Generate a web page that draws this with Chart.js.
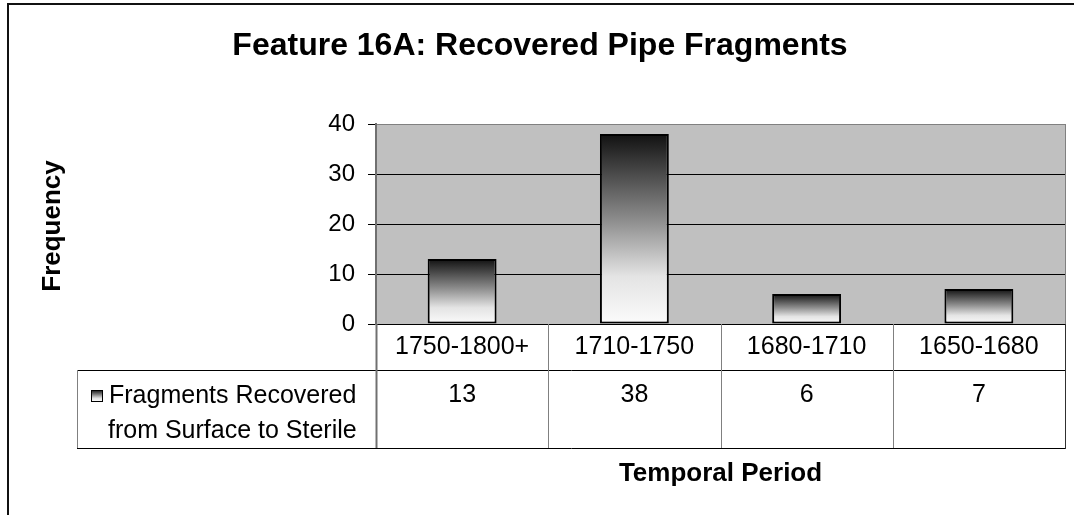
<!DOCTYPE html>
<html>
<head>
<meta charset="utf-8">
<title>Feature 16A: Recovered Pipe Fragments</title>
<script src="https://cdn.jsdelivr.net/npm/chart.js@4.4.1/dist/chart.umd.min.js"></script>
<style>
    html, body { margin: 0; padding: 0; background: #fff; }
    #wrap { width: 1074px; height: 515px; }
</style>
</head>
<body>
<div id="wrap"><canvas id="pipeChart" width="1074" height="515"></canvas></div>
<script>
// ================= DATA =================
const categories = ['1750-1800+', '1710-1750', '1680-1710', '1650-1680'];
const fragments = [13, 38, 6, 7];
const seriesLabel = ['Fragments Recovered', 'from Surface to Sterile'];
const chartTitle = 'Feature 16A: Recovered Pipe Fragments';
const yTitle = 'Frequency';
const xTitle = 'Temporal Period';
const yMax = 40;
const yStep = 10;

const FONT = "'Liberation Sans', Arial, sans-serif";

// ================= HELPERS =================
function barGradient(ctx, top, bottom) {
    const g = ctx.createLinearGradient(0, top, 0, bottom);
    g.addColorStop(0, '#111111');
    g.addColorStop(0.45, '#8c8c8c');
    g.addColorStop(0.75, '#e4e4e4');
    g.addColorStop(1, '#fbfbfb');
    return g;
}

function line(ctx, x1, y1, x2, y2, color, w) {
    ctx.save();
    ctx.strokeStyle = color;
    ctx.lineWidth = w || 1;
    ctx.beginPath();
    ctx.moveTo(x1, y1);
    ctx.lineTo(x2, y2);
    ctx.stroke();
    ctx.restore();
}

// ================= PLUGINS =================
const frameAndBackground = {
    id: 'frameAndBackground',
    beforeDraw(chart) {
        const { ctx, chartArea: a } = chart;
        ctx.save();
        ctx.fillStyle = '#fff';
        ctx.fillRect(0, 0, chart.width, chart.height);
        // outer frame (left + top visible)
        ctx.fillStyle = '#111';
        ctx.fillRect(7, 3, 2, chart.height - 3);
        ctx.fillRect(7, 3, chart.width - 7, 2);
        // plot area
        ctx.fillStyle = '#c0c0c0';
        ctx.fillRect(a.left, a.top, a.right - a.left, a.bottom - a.top);
        ctx.restore();
    }
};

const dataTable = {
    id: 'dataTable',
    afterDraw(chart) {
        const { ctx, chartArea: a } = chart;
        const xs = chart.scales.x;
        const n = categories.length;
        const cell = (a.right - a.left) / n;
        const row1Top = a.bottom, row1Bot = a.bottom + 46, row2Bot = a.bottom + 124;
        const tableLeft = 77;

        // plot area right border
        line(ctx, a.right + 0.5, a.top, a.right + 0.5, a.bottom, '#808080', 1);

        // horizontal table lines
        line(ctx, tableLeft, row1Bot + 0.5, a.right + 1, row1Bot + 0.5, '#000', 1);
        line(ctx, tableLeft, row2Bot + 0.5, a.right + 1, row2Bot + 0.5, '#000', 1);

        // vertical table lines
        for (let i = 0; i < n; i++) {
            const x = Math.round(a.left + i * cell) + 0.5;
            line(ctx, x, row1Top, x, row2Bot, i === 0 ? '#707070' : '#808080', i === 0 ? 2 : 1);
        }
        line(ctx, a.right + 0.5, row1Top, a.right + 0.5, row2Bot + 1, '#303030', 1);
        line(ctx, tableLeft + 0.5, row1Bot, tableLeft + 0.5, row2Bot, '#808080', 1);

        ctx.save();
        ctx.fillStyle = '#000';
        ctx.textBaseline = 'alphabetic';
        ctx.textAlign = 'center';
        ctx.font = '25px ' + FONT;
        categories.forEach((c, i) => {
            const x = xs.getPixelForValue(i);
            ctx.fillText(c, x, row1Top + 30);
            ctx.fillText(String(fragments[i]), x, row1Bot + 32);
        });

        // legend key + series name
        const kx = 91, ky = 390;
        ctx.fillStyle = barGradient(ctx, ky, ky + 11);
        ctx.fillRect(kx, ky, 11, 11);
        ctx.strokeStyle = '#000';
        ctx.lineWidth = 1;
        ctx.strokeRect(kx + 0.5, ky + 0.5, 11, 11);

        ctx.fillStyle = '#000';
        ctx.textAlign = 'left';
        ctx.fillText(seriesLabel[0], 109, row1Bot + 33);
        ctx.fillText(seriesLabel[1], 108, row1Bot + 68);

        // titles
        ctx.textAlign = 'center';
        ctx.font = 'bold 32px ' + FONT;
        ctx.fillText(chartTitle, 540, 55);

        ctx.font = 'bold 26px ' + FONT;
        ctx.fillText(xTitle, (a.left + a.right) / 2 + 0, 481);

        ctx.translate(60, 226);
        ctx.rotate(-Math.PI / 2);
        ctx.fillText(yTitle, 0, 0);
        ctx.restore();
    }
};

// ================= CHART =================
const canvas = document.getElementById('pipeChart');

new Chart(canvas, {
    type: 'bar',
    data: {
        labels: categories,
        datasets: [{
            label: seriesLabel.join(' '),
            data: fragments,
            backgroundColor: (c) => {
                const chart = c.chart;
                if (!chart.chartArea || c.type !== 'data') return '#888';
                const y = chart.scales.y;
                return barGradient(chart.ctx, y.getPixelForValue(c.raw), y.getPixelForValue(0));
            },
            borderColor: '#000',
            borderWidth: 2,
            borderSkipped: false,
            barPercentage: 0.4,
            categoryPercentage: 1
        }]
    },
    options: {
        responsive: false,
        animation: false,
        devicePixelRatio: 1,
        layout: { padding: { left: 0, top: 124, right: 9, bottom: 0 } },
        plugins: {
            legend: { display: false },
            title: { display: false },
            tooltip: { enabled: false }
        },
        scales: {
            x: {
                ticks: { display: false },
                grid: { display: false, drawTicks: false },
                border: { display: true, color: '#000', width: 1 },
                afterFit: (s) => { s.height = 191; }
            },
            y: {
                min: 0,
                max: yMax,
                ticks: {
                    stepSize: yStep,
                    padding: 13,
                    color: '#000',
                    font: { family: FONT, size: 24 }
                },
                grid: {
                    color: (c) => (c.tick && c.tick.value === yMax ? '#808080' : '#000'),
                    tickColor: '#000',
                    tickLength: 8,
                    lineWidth: 1
                },
                border: { display: true, color: '#707070', width: 2 },
                afterFit: (s) => { s.width = 376; }
            }
        }
    },
    plugins: [frameAndBackground, dataTable]
});
</script>
</body>
</html>
